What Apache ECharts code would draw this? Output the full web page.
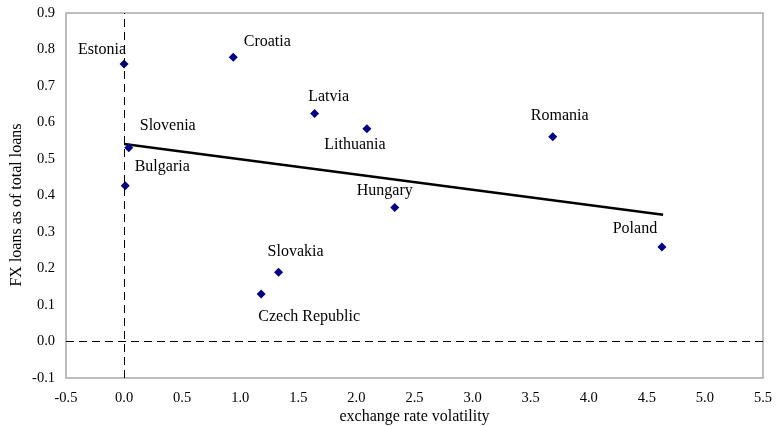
<!DOCTYPE html>
<html>
<head>
<meta charset="utf-8">
<script src="https://cdn.jsdelivr.net/npm/echarts@6/dist/echarts.min.js"></script>
<style>html,body{margin:0;padding:0;background:#fff;}#c{width:779px;height:426px;}</style>
</head>
<body>
<div id="c"></div>
<script>
const countries = ['Estonia','Croatia','Slovenia','Bulgaria','Latvia','Lithuania','Hungary','Slovakia','Czech Republic','Romania','Poland'];
const volatility = [0.00, 0.94, 0.04, 0.01, 1.64, 2.09, 2.33, 1.33, 1.18, 3.69, 4.63];
const fxShare = [0.760, 0.779, 0.531, 0.427, 0.625, 0.583, 0.367, 0.190, 0.130, 0.561, 0.259];
const trendX = [0.0, 4.64];
const trendY = [0.541, 0.347];
const xTicks = {min: -0.5, max: 5.5, interval: 0.5};
const yTicks = {min: -0.1, max: 0.9, interval: 0.1};

// label placement (style only)
const labelOffsets = {
  'Estonia': [-22, -14], 'Croatia': [34, -15], 'Slovenia': [39, -22], 'Bulgaria': [37, -19],
  'Latvia': [14, -17], 'Lithuania': [-12, 16], 'Hungary': [-10, -17], 'Slovakia': [17, -20],
  'Czech Republic': [48, 23], 'Romania': [7, -21], 'Poland': [-27, -18]
};

const font = '"Liberation Serif", "Times New Roman", serif';
const pts = countries.map((c, i) => ({
  name: c,
  value: [volatility[i], fxShare[i]],
  label: {offset: labelOffsets[c]}
}));

const chart = echarts.init(document.getElementById('c'), null, {renderer: 'canvas'});
chart.setOption({
  animation: false,
  backgroundColor: '#fff',
  grid: {left: 66, right: 16, top: 13, bottom: 48, show: true, borderColor: '#a8a8a8', borderWidth: 1.5, containLabel: false, outerBoundsMode: 'none'},
  xAxis: {
    type: 'value', min: xTicks.min, max: xTicks.max, interval: xTicks.interval,
    name: 'exchange rate volatility', nameLocation: 'middle', nameGap: 31, nameMoveOverlap: false,
    nameTextStyle: {fontFamily: font, fontSize: 16, color: '#000'},
    axisLine: {show: false}, axisTick: {show: false}, splitLine: {show: false},
    axisLabel: {fontFamily: font, fontSize: 14.5, color: '#000', margin: 13, formatter: v => v.toFixed(1)}
  },
  yAxis: {
    type: 'value', min: yTicks.min, max: yTicks.max, interval: yTicks.interval,
    name: 'FX loans as of total loans', nameLocation: 'middle', nameGap: 41, nameMoveOverlap: false,
    nameTextStyle: {fontFamily: font, fontSize: 16, color: '#000', padding: [0, 19, 0, 0]},
    axisLine: {show: false}, axisTick: {show: false}, splitLine: {show: false},
    axisLabel: {fontFamily: font, fontSize: 14.5, color: '#000', margin: 11, formatter: v => v.toFixed(1)}
  },
  series: [
    {
      type: 'line', silent: true, symbol: 'none',
      data: trendX.map((x, i) => [x, trendY[i]]),
      lineStyle: {color: '#000', width: 2.5}, z: 3,
      markLine: {
        silent: true, symbol: 'none', label: {show: false},
        lineStyle: {color: '#000', type: [8, 5], width: 1},
        data: [{xAxis: 0}, {yAxis: 0}]
      }
    },
    {
      type: 'scatter', symbol: 'diamond', symbolSize: 9,
      itemStyle: {color: '#000080', opacity: 1}, z: 4,
      data: pts,
      label: {show: true, position: 'inside', formatter: p => p.name, fontFamily: font, fontSize: 16, color: '#000', opacity: 1}
    }
  ]
});
</script>
</body>
</html>
